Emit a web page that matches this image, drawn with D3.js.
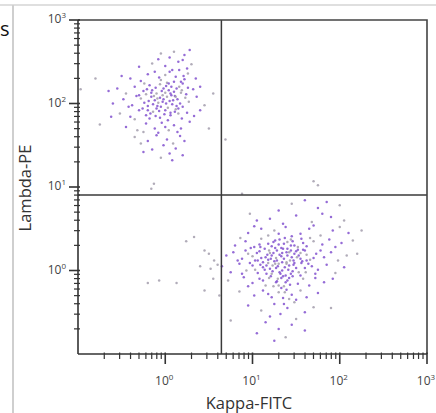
<!DOCTYPE html>
<html>
<head>
<meta charset="utf-8">
<script src="https://cdn.jsdelivr.net/npm/d3@7"></script>
<style>
  html, body { margin: 0; padding: 0; background: #fff; }
  svg { display: block; }
</style>
</head>
<body>
<svg id="chart" width="436" height="413"></svg>
<script>
// Axis labels and decades
const xTitle = "Kappa-FITC";
const yTitle = "Lambda-PE";
const majorExps = [0, 1, 2, 3];         // labelled decades (10^0 .. 10^3)

// Quadrant gate (in fluorescence units)
const gateKappa = 4.4;
const gateLambda = 8.0;

// Events, as [log10 Kappa, log10 Lambda]
const lambdaCells = [
  [0.10,2.62],[0.22,2.58],[0.05,2.55],[0.28,2.64],[-0.05,2.60],
  [0.15,2.50],[0.00,2.45],[0.25,2.42],[-0.15,2.48],[0.20,2.52],[0.08,2.40],[-0.30,2.44],[0.30,2.47],[-0.08,2.53],
  [-0.40,2.30],[-0.20,2.35],[-0.05,2.28],[0.05,2.38],[0.12,2.32],[0.18,2.26],[0.26,2.36],[-0.28,2.27],[0.35,2.30],[-0.50,2.33],[0.02,2.25],[-0.12,2.38],[0.22,2.29],
  [-0.55,2.18],[-0.45,2.12],[-0.35,2.20],[-0.25,2.15],[-0.18,2.22],[-0.10,2.12],[-0.02,2.18],[0.04,2.24],[0.10,2.14],[0.16,2.20],[0.24,2.11],[0.32,2.17],[-0.30,2.10],[-0.06,2.23],[0.07,2.10],[0.20,2.24],[-0.15,2.16],[0.00,2.13],[-0.65,2.15],[0.40,2.20],[0.13,2.18],[-0.22,2.11],
  [-0.60,2.00],[-0.48,2.05],[-0.38,1.98],[-0.28,2.06],[-0.20,1.97],[-0.12,2.04],[-0.05,1.96],[0.02,2.08],[0.08,1.99],[0.14,2.05],[0.20,1.96],[0.27,2.02],[0.36,2.08],[-0.33,2.09],[-0.16,2.08],[-0.08,2.01],[0.05,2.03],[0.11,2.09],[-0.24,2.01],[0.45,1.98],[-0.02,2.05],[0.17,2.00],[-0.42,1.96],
  [-0.52,1.88],[-0.40,1.84],[-0.30,1.92],[-0.22,1.86],[-0.14,1.90],[-0.06,1.83],[0.00,1.92],[0.06,1.86],[0.12,1.93],[0.19,1.82],[0.25,1.89],[0.33,1.85],[-0.35,1.81],[-0.10,1.94],[0.03,1.80],[-0.18,1.82],[0.15,1.88],[0.40,1.92],[-0.62,1.84],
  [-0.45,1.72],[-0.32,1.68],[-0.22,1.76],[-0.12,1.70],[-0.04,1.77],[0.04,1.68],[0.10,1.74],[0.18,1.70],[0.28,1.78],[-0.25,1.66],[0.00,1.72],[-0.08,1.65],[0.14,1.66],
  [-0.35,1.60],[-0.20,1.55],[-0.10,1.62],[0.02,1.57],[0.09,1.52],[0.17,1.61],[-0.02,1.50],[0.22,1.55],[-0.28,1.52],
  [-0.15,1.45],[0.05,1.40],[0.12,1.46],[-0.05,1.35],[0.20,1.38],[-0.25,1.42],[0.08,1.32],
  [-0.09,2.06],[0.01,2.00],[-0.14,1.99],[0.06,2.12],[-0.03,2.10],[0.09,2.04],[-0.19,2.03],[-0.07,1.91],[0.03,1.95],[-0.11,2.19],
  [0.13,1.97],[-0.26,1.94],[0.18,2.13],[-0.01,1.87],[0.07,2.20],[-0.17,1.88],[0.23,2.07],[-0.04,2.15],[0.11,1.90],[-0.21,2.17],
  [-0.13,2.09],[0.04,2.16],[-0.06,2.07],[0.10,2.26],[-0.24,2.24],[0.15,1.94],[-0.09,1.97],[0.01,2.21],[0.19,2.16],[-0.16,2.13],
  [0.06,1.89],[-0.03,2.02],[0.12,2.08],[-0.20,1.92],[0.26,2.19],[-0.11,1.85],[0.00,2.34],[0.16,2.40],[-0.07,2.31],[0.21,2.33]
];

const kappaCells = [
  [1.45,0.80],[1.75,0.75],[1.85,0.82],[1.30,0.72],[2.00,0.78],[1.60,0.84],
  [1.20,0.62],[1.50,0.66],[1.68,0.58],[1.90,0.64],[1.05,0.60],[1.35,0.56],[2.05,0.60],[1.80,0.68],
  [0.95,0.45],[1.10,0.50],[1.25,0.48],[1.38,0.52],[1.55,0.44],[1.65,0.50],[1.78,0.42],[1.92,0.48],[2.10,0.45],[1.45,0.41],[1.18,0.42],[1.02,0.53],[1.70,0.54],[1.30,0.44],[2.00,0.52],
  [0.80,0.30],[0.92,0.35],[1.02,0.28],[1.10,0.38],[1.18,0.32],[1.26,0.36],[1.33,0.27],[1.40,0.34],[1.48,0.30],[1.56,0.38],[1.62,0.29],[1.70,0.35],[1.80,0.31],[1.88,0.37],[2.02,0.33],[0.86,0.39],[1.14,0.26],[1.37,0.39],[1.52,0.25],[1.66,0.39],[1.22,0.29],[1.95,0.28],[1.08,0.31],[1.44,0.37],[1.30,0.31],[0.98,0.27],[1.58,0.33],[2.15,0.36],
  [0.70,0.18],[0.78,0.22],[0.88,0.14],[0.95,0.20],[1.03,0.12],[1.08,0.23],[1.15,0.16],[1.20,0.21],[1.25,0.11],[1.31,0.19],[1.36,0.14],[1.42,0.22],[1.47,0.12],[1.53,0.18],[1.60,0.24],[1.66,0.13],[1.73,0.20],[1.82,0.16],[1.90,0.22],[1.98,0.12],
  [0.92,0.24],[1.12,0.10],[1.28,0.24],[1.39,0.10],[1.50,0.23],[1.57,0.11],[1.70,0.15],[1.00,0.17],[1.18,0.13],[1.34,0.21],[1.45,0.16],[1.62,0.19],[1.22,0.18],[1.05,0.21],[1.40,0.18],[1.27,0.15],[1.55,0.14],[0.83,0.12],[1.78,0.24],[2.08,0.18],
  [0.65,0.05],[0.75,-0.02],[0.85,0.08],[0.93,0.00],[1.00,0.06],[1.06,-0.03],[1.12,0.04],[1.18,0.09],[1.23,-0.01],[1.29,0.05],[1.34,0.00],[1.39,0.08],[1.44,-0.04],[1.50,0.03],[1.56,0.09],[1.61,-0.02],[1.68,0.05],[1.75,0.01],[1.85,0.07],[1.95,-0.03],
  [0.97,0.09],[1.09,0.07],[1.16,-0.04],[1.26,0.08],[1.32,-0.04],[1.37,0.04],[1.47,0.07],[1.53,-0.02],[1.64,0.08],[1.20,0.02],[1.41,0.01],[1.03,0.01],[0.88,-0.04],[1.72,-0.04],[2.05,0.04],
  [0.72,-0.12],[0.90,-0.08],[1.00,-0.15],[1.08,-0.10],[1.15,-0.18],[1.21,-0.07],[1.27,-0.14],[1.33,-0.09],[1.36,-0.19],[1.40,-0.12],[1.46,-0.07],[1.52,-0.16],[1.58,-0.10],[1.65,-0.18],[1.72,-0.09],[1.82,-0.14],[1.30,-0.18],[1.38,-0.06],[1.43,-0.17],[1.12,-0.12],[1.24,-0.19],[1.55,-0.06],[0.95,-0.19],[1.92,-0.10],
  [0.85,-0.25],[1.02,-0.30],[1.12,-0.24],[1.22,-0.32],[1.30,-0.26],[1.35,-0.33],[1.39,-0.23],[1.45,-0.29],[1.55,-0.24],[1.62,-0.32],[1.75,-0.27],[1.33,-0.21],[1.42,-0.34],[1.18,-0.28],[1.50,-0.35],
  [0.95,-0.42],[1.10,-0.48],[1.25,-0.40],[1.32,-0.52],[1.40,-0.45],[1.48,-0.38],[1.60,-0.50],[1.36,-0.40],[1.20,-0.55],[1.70,-0.44],
  [1.15,-0.62],[1.30,-0.70],[1.45,-0.65],[1.38,-0.80],[1.60,-0.72],[1.25,-0.84],[1.05,-0.75],[1.50,-0.58],
  [1.28,0.12],[1.35,0.26],[1.42,0.06],[1.19,0.24],[1.48,0.20],[1.31,-0.02],[1.24,0.34],[1.52,0.28],[1.16,0.06],[1.38,-0.14],
  [1.44,0.30],[1.29,-0.10],[1.10,0.15],[1.60,0.03],[1.34,0.10],[1.22,-0.04],[1.46,-0.01],[1.40,0.26],[1.27,0.03],[1.55,0.21],
  [1.21,0.14],[1.33,0.17],[1.26,0.27],[1.43,0.12],[1.36,0.32],[1.17,0.19],[1.48,0.09],[1.30,0.08],[1.24,0.21],[1.39,0.22],
  [1.14,0.01],[1.51,0.16],[1.35,-0.07],[1.28,-0.13],[1.42,-0.09],[1.19,-0.09],[1.58,0.25],[1.09,0.28],[1.46,0.35],[1.37,-0.26],
  [1.31,0.37],[1.62,0.12],[1.06,0.12],[1.23,0.06],[1.44,0.24]
];

// Stray events outside the two main populations
const strayCells = [
  [-0.97,2.17],[-0.80,2.30],[0.55,2.12],[0.50,1.70],[-0.75,1.75],[-0.13,1.04],[-0.16,0.98],[0.69,1.57],
  [0.24,0.35],[0.45,0.24],[0.50,0.20],[0.56,0.12],[0.60,0.07],[0.13,-0.15],[-0.07,-0.12],[0.45,-0.24],
  [0.52,0.02],[0.40,0.05],[0.33,0.40],[0.55,-0.10],[0.62,-0.30],[-0.20,-0.15],
  [0.97,0.68],[0.88,0.92],[1.70,1.07],[1.75,1.02],[2.25,0.48],[2.20,0.20],[0.75,-0.60],[1.90,-0.45]
];

// Layout
const svg = d3.select("#chart");
const plot = { left: 78, right: 427, top: 20, bottom: 354 };

const x = d3.scaleLog().domain([0.1, 1000]).range([plot.left, plot.right]);
const y = d3.scaleLog().domain([0.1, 1000]).range([plot.bottom, plot.top]);

svg.append("rect").attr("width", 436).attr("height", 413).attr("fill", "#fff");

// Page frame remnants (cropped screenshot)
svg.append("line").attr("x1", 0).attr("x2", 436).attr("y1", 5).attr("y2", 5)
  .attr("stroke", "#d4d4d4").attr("stroke-width", 1.5);
svg.append("line").attr("x1", 13).attr("x2", 13).attr("y1", 5).attr("y2", 413)
  .attr("stroke", "#cfcfcf").attr("stroke-width", 2);
svg.append("text").attr("x", 0).attr("y", 36).attr("text-anchor", "start")
  .attr("font-family", "Open Sans, sans-serif").attr("font-size", 20).attr("fill", "#111")
  .text("s");

// Events
const allCells = [
  ...lambdaCells.map(d => ({ d, grp: "lambda" })),
  ...kappaCells.map(d => ({ d, grp: "kappa" })),
  ...strayCells.map(d => ({ d, grp: "stray" }))
];

svg.append("g")
  .selectAll("circle")
  .data(allCells)
  .enter().append("circle")
  .attr("cx", c => x(Math.pow(10, c.d[0])))
  .attr("cy", c => y(Math.pow(10, c.d[1])))
  .attr("r", 1.25)
  .attr("fill", (c, i) => (c.grp === "stray" || i % 4 === 0) ? "#a39ead" : "#8352cf")
  .attr("opacity", 0.85);

// Quadrant lines
svg.append("line")
  .attr("x1", x(gateKappa)).attr("x2", x(gateKappa))
  .attr("y1", plot.top).attr("y2", plot.bottom)
  .attr("stroke", "#3a3a3a").attr("stroke-width", 1.5);
svg.append("line")
  .attr("x1", plot.left).attr("x2", plot.right)
  .attr("y1", y(gateLambda)).attr("y2", y(gateLambda))
  .attr("stroke", "#3a3a3a").attr("stroke-width", 1.5);

// Top and right frame
svg.append("path")
  .attr("d", `M${plot.left},${plot.top}H${plot.right}V${plot.bottom}`)
  .attr("fill", "none").attr("stroke", "#444").attr("stroke-width", 1.6);

// Axes with log minor ticks
const isMajor = v => Math.abs(Math.log10(v) - Math.round(Math.log10(v))) < 1e-6;

const xAxis = svg.append("g");
xAxis.append("line").attr("x1", plot.left).attr("x2", plot.right)
  .attr("y1", plot.bottom).attr("y2", plot.bottom)
  .attr("stroke", "#333").attr("stroke-width", 1.6);
xAxis.selectAll(".tk").data(x.ticks().filter(v => v > 0.1)).enter().append("line")
  .attr("x1", d => x(d)).attr("x2", d => x(d))
  .attr("y1", plot.bottom - 1.5)
  .attr("y2", d => plot.bottom + (isMajor(d) ? 10 : 5))
  .attr("stroke", "#333").attr("stroke-width", d => isMajor(d) ? 1.6 : 1.2);

const yAxis = svg.append("g");
yAxis.append("line").attr("x1", plot.left).attr("x2", plot.left)
  .attr("y1", plot.top).attr("y2", plot.bottom)
  .attr("stroke", "#333").attr("stroke-width", 1.6);
yAxis.selectAll(".tk").data(y.ticks().filter(v => v > 0.1)).enter().append("line")
  .attr("y1", d => y(d)).attr("y2", d => y(d))
  .attr("x1", plot.left + 2)
  .attr("x2", d => plot.left - (isMajor(d) ? 9 : 4))
  .attr("stroke", "#333").attr("stroke-width", d => isMajor(d) ? 1.6 : 1.2);

// Tick labels 10^n
const labelFont = "Open Sans, Liberation Sans, sans-serif";
function powerLabel(sel) {
  sel.append("tspan").text("10");
  sel.append("tspan").attr("dy", -5).attr("font-size", 8).text(e => e);
}

xAxis.selectAll(".lbl").data(majorExps).enter().append("text")
  .attr("x", e => x(Math.pow(10, e)) - 1)
  .attr("y", 385)
  .attr("text-anchor", "middle")
  .attr("font-family", labelFont).attr("font-size", 12).attr("fill", "#444")
  .call(powerLabel);

yAxis.selectAll(".lbl").data(majorExps).enter().append("text")
  .attr("x", 66)
  .attr("y", e => y(Math.pow(10, e)) + 3)
  .attr("text-anchor", "end")
  .attr("font-family", labelFont).attr("font-size", 12).attr("fill", "#444")
  .call(powerLabel);

// Axis titles
svg.append("text")
  .attr("x", 249).attr("y", 409)
  .attr("text-anchor", "middle")
  .attr("font-family", labelFont).attr("font-size", 16.5).attr("fill", "#333")
  .text(xTitle);

svg.append("text")
  .attr("transform", "translate(31,188) rotate(-90)")
  .attr("text-anchor", "middle")
  .attr("font-family", labelFont).attr("font-size", 16.5).attr("fill", "#333")
  .text(yTitle);
</script>
</body>
</html>
